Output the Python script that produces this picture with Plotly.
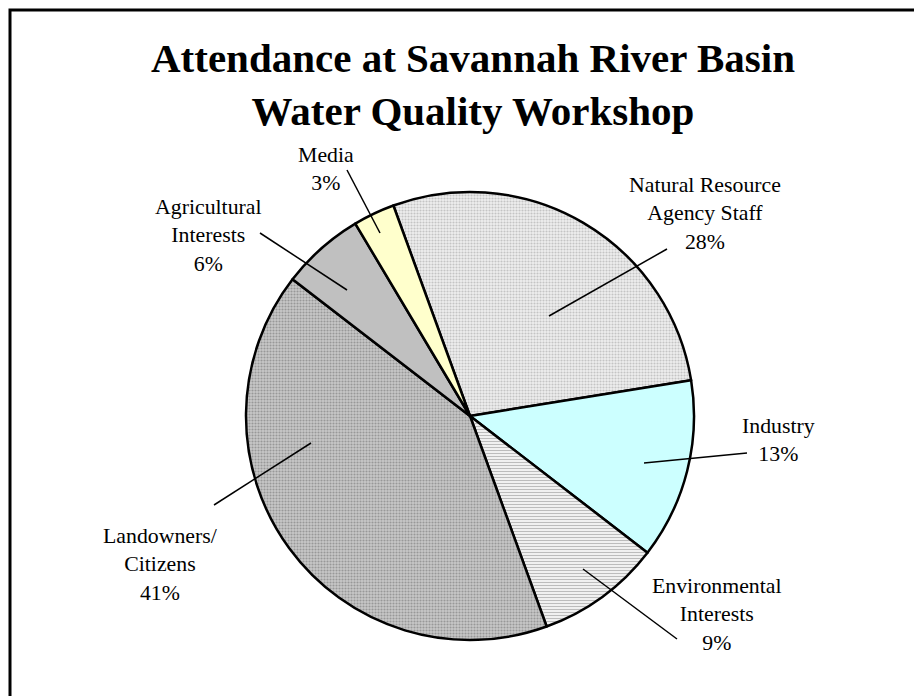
import plotly.graph_objects as go

# ---- data ----
categories = ["Natural Resource<br>Agency Staff", "Industry", "Environmental<br>Interests",
              "Landowners/<br>Citizens", "Agricultural<br>Interests", "Media"]
percent_values = [28, 13, 9, 41, 6, 3]
title_lines = ["Attendance at Savannah River Basin", "Water Quality Workshop"]

# ---- styles ----
slice_colors = ["#eeeeee", "#ccffff", "#f2f2f2", "#c4c4c4", "#c0c0c0", "#ffffcc"]
pattern_shapes = [".", "", "-", ".", "", ""]
pattern_fg = ["#c4c4c4", "#ccffff", "#bcbcbc", "#989898", "#c0c0c0", "#ffffcc"]
pattern_bg = ["#efefef", "#ccffff", "#f6f6f6", "#c8c8c8", "#c0c0c0", "#ffffcc"]

# page offset (body margin) and figure size
OFF = 8
W, H = 922 - OFF, 696 - OFF
FONT = "Liberation Serif"

def px(x):
    return (x - OFF) / W

def py(y):
    return 1 - (y - OFF) / H

# pie placement (page pixels)
cx, cy, r = 470, 416, 224

# label layout in page pixels: (text center x, text center y, leader inner x, inner y, outer x, outer y)
label_layout = [
    (705, 214, 549, 316, 667, 249),
    (778, 440, 644, 463, 747, 453),
    (717, 614, 583, 569, 677, 639),
    (160, 564, 311, 443, 214, 505),
    (208, 235, 347, 290, 260, 233),
    (326, 169, 380, 233, 347, 170),
]

fig = go.Figure(go.Pie(
    labels=categories,
    values=percent_values,
    sort=False,
    direction="clockwise",
    rotation=-20,
    textinfo="none",
    hoverinfo="label+percent",
    showlegend=False,
    marker=dict(
        colors=slice_colors,
        line=dict(color="black", width=2.5),
        pattern=dict(shape=pattern_shapes, fgcolor=pattern_fg, bgcolor=pattern_bg,
                     size=3, solidity=0.4, fillmode="replace"),
    ),
    domain=dict(x=[px(cx - r), px(cx + r)], y=[py(cy + r), py(cy - r)]),
))

annotations = []
shapes = []
for cat, val, lay in zip(categories, percent_values, label_layout):
    tx, ty, ix, iy, ox, oy = lay
    annotations.append(dict(
        x=px(tx), y=py(ty), xref="paper", yref="paper",
        text=f"{cat}<br>{val}%", showarrow=False,
        xanchor="center", yanchor="middle", align="center",
        font=dict(family=FONT, size=21.8, color="black"),
    ))
    shapes.append(dict(type="line", xref="paper", yref="paper",
                       x0=px(ix), y0=py(iy), x1=px(ox), y1=py(oy),
                       line=dict(color="black", width=1.5)))

annotations.append(dict(
    x=px(473), y=py(85), xref="paper", yref="paper",
    text="<b>" + "<br>".join(title_lines) + "</b>", showarrow=False,
    xanchor="center", yanchor="middle", align="center",
    font=dict(family=FONT, size=41, color="black"),
))

shapes.append(dict(type="rect", xref="paper", yref="paper",
                   x0=px(10), y0=py(760), x1=px(990), y1=py(10),
                   line=dict(color="black", width=3), fillcolor="rgba(0,0,0,0)"))

fig.update_layout(
    width=W, height=H,
    margin=dict(l=0, r=0, t=0, b=0),
    paper_bgcolor="white",
    plot_bgcolor="white",
    annotations=annotations,
    shapes=shapes,
)

fig.write_html("out.html")
